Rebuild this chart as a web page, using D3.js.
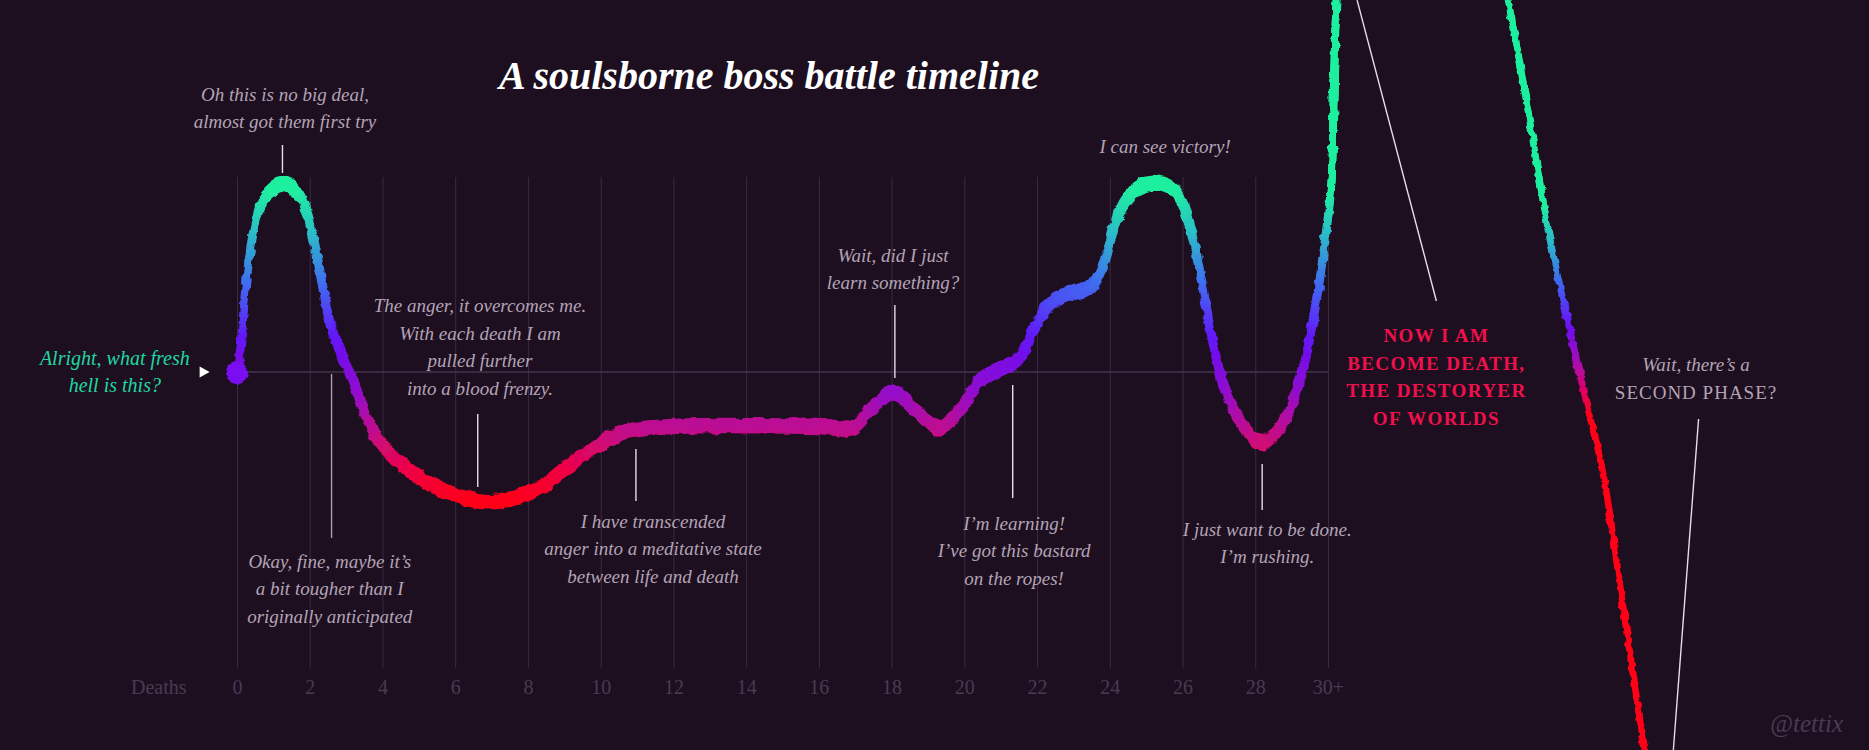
<!DOCTYPE html>
<head>
<meta charset="utf-8">
<style>
body { margin: 0; background: #1d0f20; }
svg { display: block; background: #1d0f20; }
.grid line { stroke: #3a2a41; stroke-width: 1px; }
.grid text { font-family: "Liberation Serif", serif; font-size: 20px; fill: #4b3a53; }
.zero { stroke: #45344c; stroke-width: 1.5px; }
.title { font-family: "Liberation Serif", serif; font-style: italic; font-weight: bold; font-size: 40px; fill: #ffffff; text-anchor: middle; }
.note { font-family: "Liberation Serif", serif; font-style: italic; font-size: 19px; fill: #b3a3b5; text-anchor: middle; }
.note.teal { fill: #1ed8a0; font-size: 20px; }
.note.caps { font-style: normal; font-size: 19px; letter-spacing: 1.2px; }
.note.red { fill: #f0104c; font-weight: bold; letter-spacing: 1.4px; }
.leader { stroke: #e6dee8; stroke-width: 1.4px; }
.leader.dim { stroke: #a99fab; }
.credit { font-family: "Liberation Serif", serif; font-style: italic; font-size: 25px; fill: #4b3a53; text-anchor: end; }
.brush { fill: none; stroke-linejoin: round; stroke-linecap: round; }
</style>
<script src="https://cdn.jsdelivr.net/npm/d3@7"></script>
</head>
<body>
<svg class="chart" width="1869" height="750"></svg>
<script>

// Axis ticks, deaths.
var tickDeaths = [0, 2, 4, 6, 8, 10, 12, 14, 16, 18, 20, 22, 24, 26, 28, 30];
var tickLabels = ["0", "2", "4", "6", "8", "10", "12", "14", "16", "18", "20", "22", "24", "26", "28", "30+"];

// The mood curve (x in deaths, y in mood, 0 = neutral).
var mainDeaths = [0, 0.1, 0.25, 0.48, 0.75, 1.27, 1.75, 2.07, 2.38, 2.56, 3.18, 3.91, 5.14, 6.8, 8.21, 9.44, 10.67,
  12, 14, 16, 16.9, 17.5, 18.04, 18.73, 19.28, 19.95, 20.43, 21.06, 21.55, 21.92, 22.41, 23.03, 23.52, 23.87,
  24.25, 24.74, 25.3, 25.85, 26.22, 26.52, 26.83, 27.14, 27.56, 28.18, 28.8, 29.29, 29.65, 29.96, 30.1, 30.17,
  30.3, 30.7, 31.6, 32.8];
var mainMood = [0, 1.35, 4.8, 7.8, 9.4, 10.15, 9.5, 7.5, 4.4, 2.65, -0.43, -3.7, -5.85, -7.0, -6.4, -4.6, -3.24,
  -2.95, -2.9, -2.95, -3.03, -1.9, -1.14, -2.2, -3.03, -1.9, -0.43, 0.2, 0.8, 2.4, 3.8, 4.3, 4.7, 6.05,
  8.6, 9.9, 10.2, 9.65, 7.7, 4.97, 1.7, -0.8, -2.6, -3.85, -2.6, -0.05, 3.5, 7.7, 10.4, 16.2,
  22, 27, 30.5, 31.5];

// Second phase: the fall.
var phase2Deaths = [32.8, 34.0, 34.95, 35.54, 36.1, 36.82, 37.58, 38.07, 38.56, 38.9];
var phase2Mood = [31.5, 27.5, 20.1, 13.66, 7.22, 0.78, -5.66, -12.1, -18.55, -22.5];

// Annotations: text lines, anchor (deaths, mood of first baseline), leader line.
var notes = [
  {lines: ["Oh this is no big deal,", "almost got them first try"], at: [1.32, 14.65], leader: [1.25, 12.27, 1.25, 10.76]},
  {lines: ["The anger, it overcomes me.", "With each death I am", "pulled further", "into a blood frenzy."], at: [6.68, 3.24], leader: [6.62, -2.27, 6.62, -6.22]},
  {lines: ["Okay, fine, maybe it\u2019s", "a bit tougher than I", "originally anticipated"], at: [2.55, -10.59], leader: [2.6, -0.11, 2.6, -8.97], dim: true},
  {lines: ["I have transcended", "anger into a meditative state", "between life and death"], at: [11.44, -8.43], leader: [10.97, -4.16, 10.97, -6.97]},
  {lines: ["Wait, did I just", "learn something?"], at: [18.04, 5.95], leader: [18.09, 3.62, 18.09, -0.32]},
  {lines: ["I\u2019m learning!", "I\u2019ve got this bastard", "on the ropes!"], at: [21.37, -8.54], leader: [21.33, -0.7, 21.33, -6.81]},
  {lines: ["I can see victory!"], at: [25.52, 11.84]},
  {lines: ["I just want to be done.", "I\u2019m rushing."], at: [28.33, -8.86], leader: [28.19, -4.97, 28.19, -7.46]}
];
var deathNote = {lines: ["NOW I AM", "BECOME DEATH,", "THE DESTORYER", "OF WORLDS"], at: [32.98, 1.62], leader: [30.8, 20.1, 32.98, 3.84]};
var phaseNote = {lines: ["Wait, there\u2019s a", "SECOND PHASE?"], at: [40.12, 0.05], leader: [40.19, -2.54, 39.49, -20.6]};
var startNote = {lines: ["Alright, what fresh", "hell is this?"], at: [-3.36, 0.38]};

var svg = d3.select(".chart"),
  width = +svg.attr("width"),
  height = +svg.attr("height"),
  lineHeight = 27.5;

var x = d3.scaleLinear().domain([0, 30]).range([237, 1328]);
var y = d3.scaleLinear().domain([0, 10]).range([372, 187]);

var defs = svg.append("defs");

// Rough brush edges.
var rough = defs.append("filter").attr("id", "rough")
  .attr("filterUnits", "userSpaceOnUse")
  .attr("x", 0).attr("y", 0).attr("width", width).attr("height", height);
rough.append("feTurbulence").attr("type", "fractalNoise").attr("baseFrequency", "0.09 0.12")
  .attr("numOctaves", 2).attr("seed", 4).attr("result", "noise");
rough.append("feDisplacementMap").attr("in", "SourceGraphic").attr("in2", "noise")
  .attr("scale", 6).attr("xChannelSelector", "R").attr("yChannelSelector", "G");

// Colour by mood, painted top to bottom.
function moodGradient(id, stops) {
  var top = d3.max(stops, function(s) { return s[0]; }),
    bottom = d3.min(stops, function(s) { return s[0]; });
  var grad = defs.append("linearGradient").attr("id", id)
    .attr("gradientUnits", "userSpaceOnUse")
    .attr("x1", 0).attr("x2", 0).attr("y1", y(top)).attr("y2", y(bottom));
  stops.forEach(function(s) {
    grad.append("stop")
      .attr("offset", (y(s[0]) - y(top)) / (y(bottom) - y(top)))
      .attr("stop-color", s[1]);
  });
}
moodGradient("moodMain", [[10, "#1ff09e"], [7.8, "#2bbfc6"], [5, "#3f6df0"], [2, "#6514f7"], [-0.8, "#8f08cf"],
  [-3, "#c00a8e"], [-5.2, "#ef0445"], [-7, "#ff0616"]]);
moodGradient("moodPhase2", [[9.2, "#1ff09e"], [7, "#2bb4cc"], [4.8, "#4060f0"], [2.6, "#6a12f5"], [0.8, "#a008b8"],
  [-0.8, "#d8066c"], [-2.2, "#ff0414"]]);

// Grid and axis.
var axis = d3.axisBottom(x)
  .tickValues(tickDeaths)
  .tickFormat(function(d, i) { return tickLabels[i]; })
  .tickSizeInner(-(668 - 177))
  .tickSizeOuter(0)
  .tickPadding(12);
var grid = svg.append("g")
  .attr("class", "grid")
  .attr("transform", "translate(0,668)")
  .call(axis);
grid.select(".domain").remove();
grid.selectAll("text").attr("fill", null);
grid.selectAll("line").attr("stroke", null);
grid.append("text")
  .attr("x", x(-2.15))
  .attr("y", 12)
  .attr("dy", "0.71em")
  .attr("text-anchor", "middle")
  .text("Deaths");

svg.append("line")
  .attr("class", "zero")
  .attr("x1", x(0)).attr("x2", x(30))
  .attr("y1", y(0)).attr("y2", y(0));

// Title.
svg.append("text")
  .attr("class", "title")
  .attr("x", 769).attr("y", 89)
  .text("A soulsborne boss battle timeline");

// The brush strokes: a flat nib, drawn a few times a little apart vertically.
var line = d3.line()
  .x(function(d) { return x(d[0]); })
  .y(function(d) { return y(d[1]); })
  .curve(d3.curveCatmullRom.alpha(0.5));

function brush(points, gradId, nib, widthPx) {
  var g = svg.append("g").attr("filter", "url(#rough)");
  nib.forEach(function(dy) {
    g.append("path")
      .datum(points)
      .attr("class", "brush")
      .attr("transform", "translate(0," + dy + ")")
      .attr("stroke", "url(#" + gradId + ")")
      .attr("stroke-width", widthPx)
      .attr("d", line);
  });
  return g;
}

brush(d3.zip(phase2Deaths, phase2Mood), "moodPhase2", [-2, 0, 2], 6);
var mainG = brush(d3.zip(mainDeaths, mainMood), "moodMain", [-4, -1.5, 1.5, 4], 7.5);
mainG.append("circle")
  .attr("cx", x(0)).attr("cy", y(0) + 1)
  .attr("r", 11)
  .attr("fill", "#7a0ef2");

// Start marker.
svg.append("path")
  .attr("d", "M0,-5.5L10,0L0,5.5Z")
  .attr("transform", "translate(" + (x(-0.89) - 5) + "," + y(0) + ")")
  .attr("fill", "#ffffff");

// Annotations.
function drawNote(n, cls) {
  if (n.leader) {
    svg.append("line")
      .attr("class", n.dim ? "leader dim" : "leader")
      .attr("x1", x(n.leader[0])).attr("y1", y(n.leader[1]))
      .attr("x2", x(n.leader[2])).attr("y2", y(n.leader[3]));
  }
  var t = svg.append("text")
    .attr("class", "note " + (cls || ""))
    .attr("x", x(n.at[0]))
    .attr("y", y(n.at[1]));
  n.lines.forEach(function(s, i) {
    t.append("tspan")
      .attr("x", x(n.at[0]))
      .attr("dy", i === 0 ? 0 : lineHeight)
      .text(s);
  });
  return t;
}

notes.forEach(function(n) { drawNote(n); });
drawNote(startNote, "teal");
drawNote(deathNote, "caps red");
var pn = drawNote(phaseNote);
pn.selectAll("tspan").filter(function(d, i) { return i === 1; })
  .style("font-style", "normal")
  .style("letter-spacing", "1px");

svg.append("text")
  .attr("class", "credit")
  .attr("x", 1843).attr("y", 732)
  .text("@tettix");

</script>
</body>
